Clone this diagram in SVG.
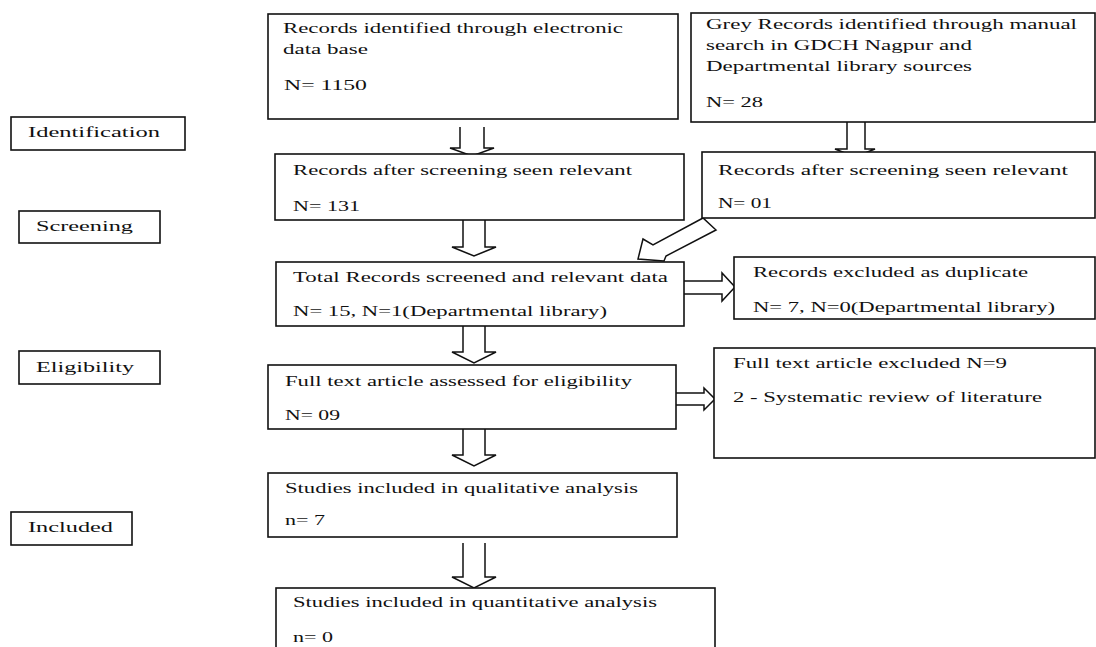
<svg xmlns="http://www.w3.org/2000/svg" width="1096" height="647" viewBox="0 0 1096 647">
<style>
.box{fill:#fff;stroke:#111;stroke-width:1.6}
.arr{fill:#fff;stroke:#111;stroke-width:1.5;stroke-linejoin:miter}
text{font-family:"Liberation Serif","Times New Roman",serif;font-size:15px;fill:#111}
</style>
<rect width="1096" height="647" fill="#fff"/>
<g id="stage-identification"><rect class="box" x="11" y="117" width="174" height="33"/><text x="28" y="137" textLength="132" lengthAdjust="spacingAndGlyphs">Identification</text></g>
<g id="stage-screening"><rect class="box" x="19" y="211" width="141" height="32"/><text x="36" y="231" textLength="97" lengthAdjust="spacingAndGlyphs">Screening</text></g>
<g id="stage-eligibility"><rect class="box" x="19" y="351" width="141" height="33"/><text x="36" y="372" textLength="98" lengthAdjust="spacingAndGlyphs">Eligibility</text></g>
<g id="stage-included"><rect class="box" x="11" y="512" width="121" height="33"/><text x="28" y="532" textLength="85" lengthAdjust="spacingAndGlyphs">Included</text></g>

<g id="connectors">
<path class="arr" d="M460,127 V148 H450 L472,156 L494,148 H484 V127"/>
<path class="arr" d="M463,220 V247 H452 L474,256 L496,247 H485 V220"/>
<path class="arr" d="M463,326 V352 H452 L474,363 L496,352 H485 V326"/>
<path class="arr" d="M463,429 V455 H452 L474,466 L496,455 H485 V429"/>
<path class="arr" d="M463,543 V577 H452 L474,588 L496,577 H485 V543"/>
<path class="arr" d="M847,122 V149 H835 L855,157 L875,149 H865 V122"/>
<path class="arr" d="M684,281 H722 V273 L735,287 L722,301 V294 H684"/>
<path class="arr" d="M676,393 H704 V388 L715,399 L704,410 V405 H676"/>
<path class="arr" d="M703,218 L653,245 L643,239 L638,259 L664,261 L666,256 L716,230 Z"/>
</g>

<g id="n-electronic"><rect class="box" x="268" y="14" width="410" height="105"/>
<text x="283" y="33" textLength="340" lengthAdjust="spacingAndGlyphs">Records identified through electronic</text>
<text x="283" y="54" textLength="85" lengthAdjust="spacingAndGlyphs">data base</text>
<text x="284" y="90" textLength="83" lengthAdjust="spacingAndGlyphs">N= 1150</text></g>

<g id="n-grey"><rect class="box" x="691" y="13" width="404" height="109"/>
<text x="706" y="29" textLength="371" lengthAdjust="spacingAndGlyphs">Grey Records identified through manual</text>
<text x="706" y="50" textLength="266" lengthAdjust="spacingAndGlyphs">search in GDCH Nagpur and</text>
<text x="706" y="71" textLength="266" lengthAdjust="spacingAndGlyphs">Departmental library sources</text>
<text x="706" y="107" textLength="57" lengthAdjust="spacingAndGlyphs">N= 28</text></g>

<g id="n-screened-left"><rect class="box" x="275" y="154" width="409" height="66"/>
<text x="293" y="175" textLength="339" lengthAdjust="spacingAndGlyphs">Records after screening seen relevant</text>
<text x="293" y="211" textLength="67" lengthAdjust="spacingAndGlyphs">N= 131</text></g>

<g id="n-screened-right"><rect class="box" x="702" y="152" width="393" height="66"/>
<text x="718" y="175" textLength="350" lengthAdjust="spacingAndGlyphs">Records after screening seen relevant</text>
<text x="718" y="208" textLength="54" lengthAdjust="spacingAndGlyphs">N= 01</text></g>

<g id="n-total"><rect class="box" x="276" y="262" width="408" height="64"/>
<text x="293" y="282" textLength="375" lengthAdjust="spacingAndGlyphs">Total Records screened and relevant data</text>
<text x="293" y="316" textLength="314" lengthAdjust="spacingAndGlyphs">N= 15, N=1(Departmental library)</text></g>

<g id="n-duplicate"><rect class="box" x="734" y="257" width="361" height="62"/>
<text x="753" y="277" textLength="275" lengthAdjust="spacingAndGlyphs">Records excluded as duplicate</text>
<text x="753" y="312" textLength="302" lengthAdjust="spacingAndGlyphs">N= 7, N=0(Departmental library)</text></g>

<g id="n-fulltext"><rect class="box" x="268" y="365" width="408" height="64"/>
<text x="285" y="386" textLength="347" lengthAdjust="spacingAndGlyphs">Full text article assessed for eligibility</text>
<text x="285" y="420" textLength="55" lengthAdjust="spacingAndGlyphs">N= 09</text></g>

<g id="n-excluded"><rect class="box" x="714" y="348" width="381" height="110"/>
<text x="733" y="368" textLength="274" lengthAdjust="spacingAndGlyphs">Full text article excluded N=9</text>
<text x="733" y="402" textLength="309" lengthAdjust="spacingAndGlyphs">2 - Systematic review of literature</text></g>

<g id="n-qualitative"><rect class="box" x="268" y="473" width="409" height="64"/>
<text x="285" y="493" textLength="353" lengthAdjust="spacingAndGlyphs">Studies included in qualitative analysis</text>
<text x="285" y="525" textLength="40" lengthAdjust="spacingAndGlyphs">n= 7</text></g>

<g id="n-quantitative"><rect class="box" x="276" y="588" width="439" height="75"/>
<text x="293" y="607" textLength="364" lengthAdjust="spacingAndGlyphs">Studies included in quantitative analysis</text>
<text x="293" y="642" textLength="40" lengthAdjust="spacingAndGlyphs">n= 0</text></g>
</svg>
